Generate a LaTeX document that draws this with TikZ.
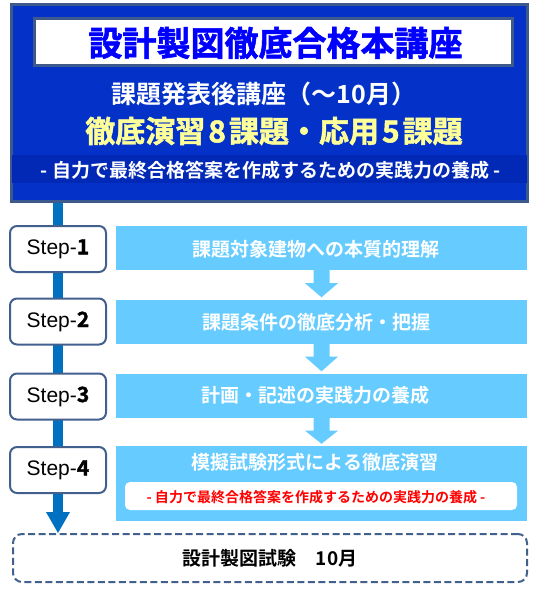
\documentclass[tikz,border=0pt]{standalone}
\usepackage{fontspec}
\setmainfont{Liberation Sans}
\newfontfamily\jpb{Noto Sans CJK JP Bold}
\newfontfamily\jpk{Noto Sans CJK JP Bold}[FakeBold=1.6]
\usetikzlibrary{calc,backgrounds}
\definecolor{mainblue}{RGB}{4,50,200}
\definecolor{bandblue}{RGB}{2,40,182}
\definecolor{bord}{RGB}{62,90,140}
\definecolor{titleblue}{RGB}{0,0,255}
\definecolor{yel}{RGB}{255,255,153}
\definecolor{lblue}{RGB}{102,204,255}
\definecolor{linec}{RGB}{0,112,192}
\definecolor{stepbord}{RGB}{66,96,142}
\definecolor{redtxt}{RGB}{255,0,0}
\newcommand\stepnum[1]{{\jpk #1}}
\newcommand\blockarr[2]{%
  \fill[lblue] ($(#1.south)+(-8,-1)$) -- ($(#1.south)+(-8,13)$) -- ($(#1.south)+(-16.5,13)$)
    -- ($(#2.north)+(0,-2)$) -- ($(#1.south)+(16.5,13)$) -- ($(#1.south)+(8,13)$)
    -- ($(#1.south)+(8,-1)$) -- cycle;}
\tikzset{
  outerbox/.style={draw=bord, line width=3pt, fill=mainblue, minimum width=516pt, minimum height=197pt, inner sep=0pt},
  bandbox/.style={fill=bandblue, minimum width=515pt, minimum height=28pt, inner sep=0pt},
  whitebox/.style={draw=bord, line width=3pt, fill=white, minimum width=478pt, minimum height=47pt, inner sep=0pt},
  txt/.style={inner sep=0pt},
  titletext/.style={txt, text=titleblue, font=\jpk\fontsize{34}{34}\selectfont},
  subtext/.style={txt, text=white, font=\jpb\fontsize{25}{25}\selectfont},
  yeltext/.style={txt, text=yel, font=\jpk\fontsize{30}{30}\selectfont},
  bandtext/.style={txt, text=white, font=\jpb\fontsize{19}{19}\selectfont},
  stepbox/.style={draw=stepbord, line width=2pt, fill=white, rounded corners=7pt, minimum width=96pt, minimum height=46pt, inner sep=0pt, font=\fontsize{21}{21}\selectfont},
  lrect/.style={fill=lblue, minimum width=411pt, minimum height=44pt, inner sep=0pt},
  rtext/.style={txt, text=white, font=\jpb\fontsize{19}{19}\selectfont},
  innerw/.style={fill=white, rounded corners=5pt, minimum width=392pt, minimum height=28pt, inner sep=0pt},
  redtext/.style={txt, text=redtxt, font=\jpb\fontsize{14}{14}\selectfont},
  exambox/.style={draw=stepbord, line width=2pt, dash pattern=on 7pt off 3.5pt, fill=white, rounded corners=9pt, minimum width=514pt, minimum height=48pt, inner sep=0pt, font=\jpb\fontsize{19}{19}\selectfont},
  vline/.style={draw=linec, line width=10pt},
}
\begin{document}
\begin{tikzpicture}[x=1pt,y=-1pt]
\useasboundingbox (0,0) rectangle (534,594);
% top block
\node[outerbox] (top) at (269.5,103) {};
\node[bandbox] (band) at (269.5,169) {};
\node[whitebox] (titlebox) at (273.5,42) {};
\node[titletext] (title) at (275.5,43) {設計製図徹底合格本講座};
\node[subtext] (sub) at (264,94) {課題発表後講座（～10月）};
\node[yeltext] (yl) at (274,131) {徹底演習\hspace{3pt}8\hspace{3pt}課題・応用\hspace{3pt}5\hspace{3pt}課題};
\node[bandtext] (bt) at (270.5,170) {- 自力で最終合格答案を作成するための実践力の養成 -};
% steps
\node[stepbox] (s1) at (58,249) {Step-\stepnum{1}};
\node[stepbox] (s2) at (58,321.5) {Step-\stepnum{2}};
\node[stepbox] (s3) at (58,396.5) {Step-\stepnum{3}};
\node[stepbox] (s4) at (58,470) {Step-\stepnum{4}};
% light rects
\node[lrect] (r1) at (321.5,248) {};
\node[lrect] (r2) at (321.5,321.5) {};
\node[lrect] (r3) at (321.5,395.5) {};
\node[lrect, minimum height=75pt] (r4) at (321.5,483.5) {};
\node[rtext] (t1) at (316,249) {課題対象建物への本質的理解};
\node[rtext] (t2) at (316,322) {課題条件の徹底分析・把握};
\node[rtext] (t3) at (315,395) {計画・記述の実践力の養成};
\node[rtext] (t4) at (315,462) {模擬試験形式による徹底演習};
\node[innerw] (w4) at (321,496) {};
\node[redtext] (rt) at (316,497) {- 自力で最終合格答案を作成するための実践力の養成 -};
\blockarr{r1}{r2}
\blockarr{r2}{r3}
\blockarr{r3}{r4}
% exam box
\node[exambox] (exam) at (270,558) {設計製図試験　10月};
% vertical timeline arrow
\coordinate (ah) at ($(s4.south)+(0,18)$);
\begin{scope}[on background layer]
  \draw[vline] (top.south -| s1) -- ($(ah)+(0,2)$);
  \fill[linec] ($(ah)+(-12,0)$) -- ($(ah)+(12,0)$) -- (exam.north -| ah) -- cycle;
\end{scope}
\end{tikzpicture}
\end{document}
